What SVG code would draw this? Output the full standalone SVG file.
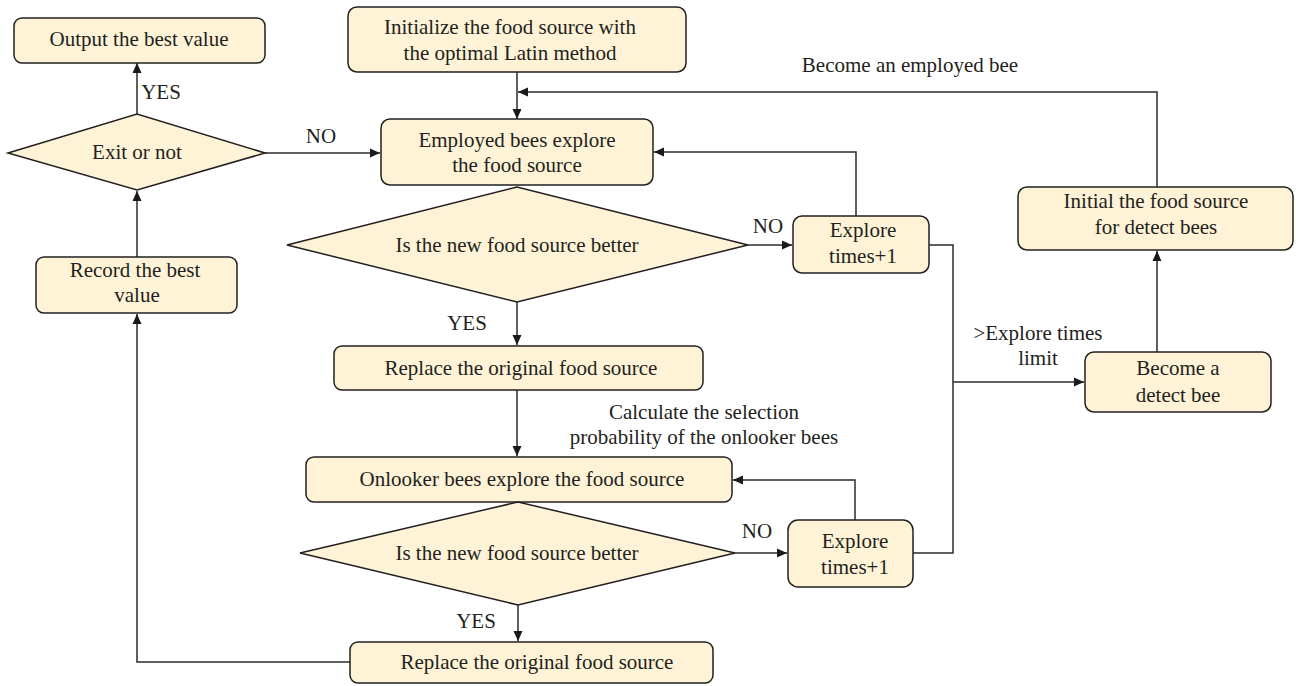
<svg xmlns="http://www.w3.org/2000/svg" width="1296" height="686" viewBox="0 0 1296 686">
  <style>
    .box { fill: #fef3d6; stroke: #231f20; stroke-width: 1.5; }
    .lbl { font-family: "Liberation Serif", "DejaVu Serif", serif; font-size: 21px; fill: #231f20; text-anchor: middle; }
    .edge { fill: none; stroke: #2b2b2b; stroke-width: 1.5; }
  </style>
  <defs>
    <marker id="arr" viewBox="0 0 10 10" refX="10" refY="5" markerWidth="10" markerHeight="10" markerUnits="userSpaceOnUse" orient="auto">
      <path d="M0,0.5 L10,5 L0,9.5 z" fill="#1a1a1a"/>
    </marker>
  </defs>
  <rect width="1296" height="686" fill="#ffffff"/>

  <!-- connectors -->
  <g id="connectors">
    <path class="edge" d="M137,114 V63" marker-end="url(#arr)"/>
    <path class="edge" d="M265,153 H380" marker-end="url(#arr)"/>
    <path class="edge" d="M517,72 V119" marker-end="url(#arr)"/>
    <path class="edge" d="M1157,187 V92 H518" marker-end="url(#arr)"/>
    <path class="edge" d="M856,216 V152 H654" marker-end="url(#arr)"/>
    <path class="edge" d="M748,245 H792" marker-end="url(#arr)"/>
    <path class="edge" d="M929,245 H953 V553 H913"/>
    <path class="edge" d="M953,382 H1084" marker-end="url(#arr)"/>
    <path class="edge" d="M1157,352 V251" marker-end="url(#arr)"/>
    <path class="edge" d="M517,302 V345" marker-end="url(#arr)"/>
    <path class="edge" d="M517,390 V456" marker-end="url(#arr)"/>
    <path class="edge" d="M855,520 V480 H733" marker-end="url(#arr)"/>
    <path class="edge" d="M735,553 H787" marker-end="url(#arr)"/>
    <path class="edge" d="M518,605 V641" marker-end="url(#arr)"/>
    <path class="edge" d="M350,662 H137 V314" marker-end="url(#arr)"/>
    <path class="edge" d="M137,257 V191" marker-end="url(#arr)"/>
    <text class="lbl" x="161" y="99">YES</text>
    <text class="lbl" x="321" y="143">NO</text>
    <text class="lbl" x="910" y="72">Become an employed bee</text>
    <text class="lbl" x="768" y="233">NO</text>
    <text class="lbl" x="1038" y="340">&gt;Explore times</text>
    <text class="lbl" x="1038" y="365">limit</text>
    <text class="lbl" x="467" y="330">YES</text>
    <text class="lbl" x="704" y="419">Calculate the selection</text>
    <text class="lbl" x="704" y="444">probability of the onlooker bees</text>
    <text class="lbl" x="757" y="538">NO</text>
    <text class="lbl" x="476" y="628">YES</text>
  </g>

  <g id="output">
    <rect class="box" x="14" y="18" width="251" height="45" rx="8"/>
    <text class="lbl" x="139" y="46">Output the best value</text>
  </g>
  <g id="exit">
    <polygon class="box" points="8,153 137,114 265,153 137,190"/>
    <text class="lbl" x="137" y="159">Exit or not</text>
  </g>
  <g id="record">
    <rect class="box" x="36" y="257" width="201" height="56" rx="8"/>
    <text class="lbl" x="135" y="277">Record the best</text>
    <text class="lbl" x="137" y="302">value</text>
  </g>
  <g id="init">
    <rect class="box" x="348" y="7" width="338" height="65" rx="9"/>
    <text class="lbl" x="510" y="34">Initialize the food source with</text>
    <text class="lbl" x="510" y="60">the optimal Latin method</text>
  </g>
  <g id="employed">
    <rect class="box" x="381" y="119" width="272" height="66" rx="9"/>
    <text class="lbl" x="517" y="147">Employed bees explore</text>
    <text class="lbl" x="517" y="172">the food source</text>
  </g>
  <g id="better1">
    <polygon class="box" points="287,245 517,187 748,245 517,302"/>
    <text class="lbl" x="517" y="252">Is the new food source better</text>
  </g>
  <g id="explore1">
    <rect class="box" x="793" y="216" width="136" height="57" rx="9"/>
    <text class="lbl" x="863" y="237">Explore</text>
    <text class="lbl" x="863" y="263">times+1</text>
  </g>
  <g id="replace1">
    <rect class="box" x="334" y="346" width="369" height="44" rx="8"/>
    <text class="lbl" x="521" y="375">Replace the original food source</text>
  </g>
  <g id="onlooker">
    <rect class="box" x="306" y="457" width="426" height="45" rx="8"/>
    <text class="lbl" x="522" y="486">Onlooker bees explore the food source</text>
  </g>
  <g id="better2">
    <polygon class="box" points="300,553 518,502 735,553 518,605"/>
    <text class="lbl" x="517" y="560">Is the new food source better</text>
  </g>
  <g id="explore2">
    <rect class="box" x="788" y="520" width="125" height="67" rx="10"/>
    <text class="lbl" x="855" y="548">Explore</text>
    <text class="lbl" x="855" y="574">times+1</text>
  </g>
  <g id="replace2">
    <rect class="box" x="350" y="642" width="363" height="41" rx="8"/>
    <text class="lbl" x="537" y="669">Replace the original food source</text>
  </g>
  <g id="detect">
    <rect class="box" x="1085" y="352" width="186" height="60" rx="9"/>
    <text class="lbl" x="1178" y="375">Become a</text>
    <text class="lbl" x="1178" y="402">detect bee</text>
  </g>
  <g id="initdetect">
    <rect class="box" x="1018" y="187" width="275" height="63" rx="9"/>
    <text class="lbl" x="1156" y="208">Initial the food source</text>
    <text class="lbl" x="1156" y="234">for detect bees</text>
  </g>
</svg>
